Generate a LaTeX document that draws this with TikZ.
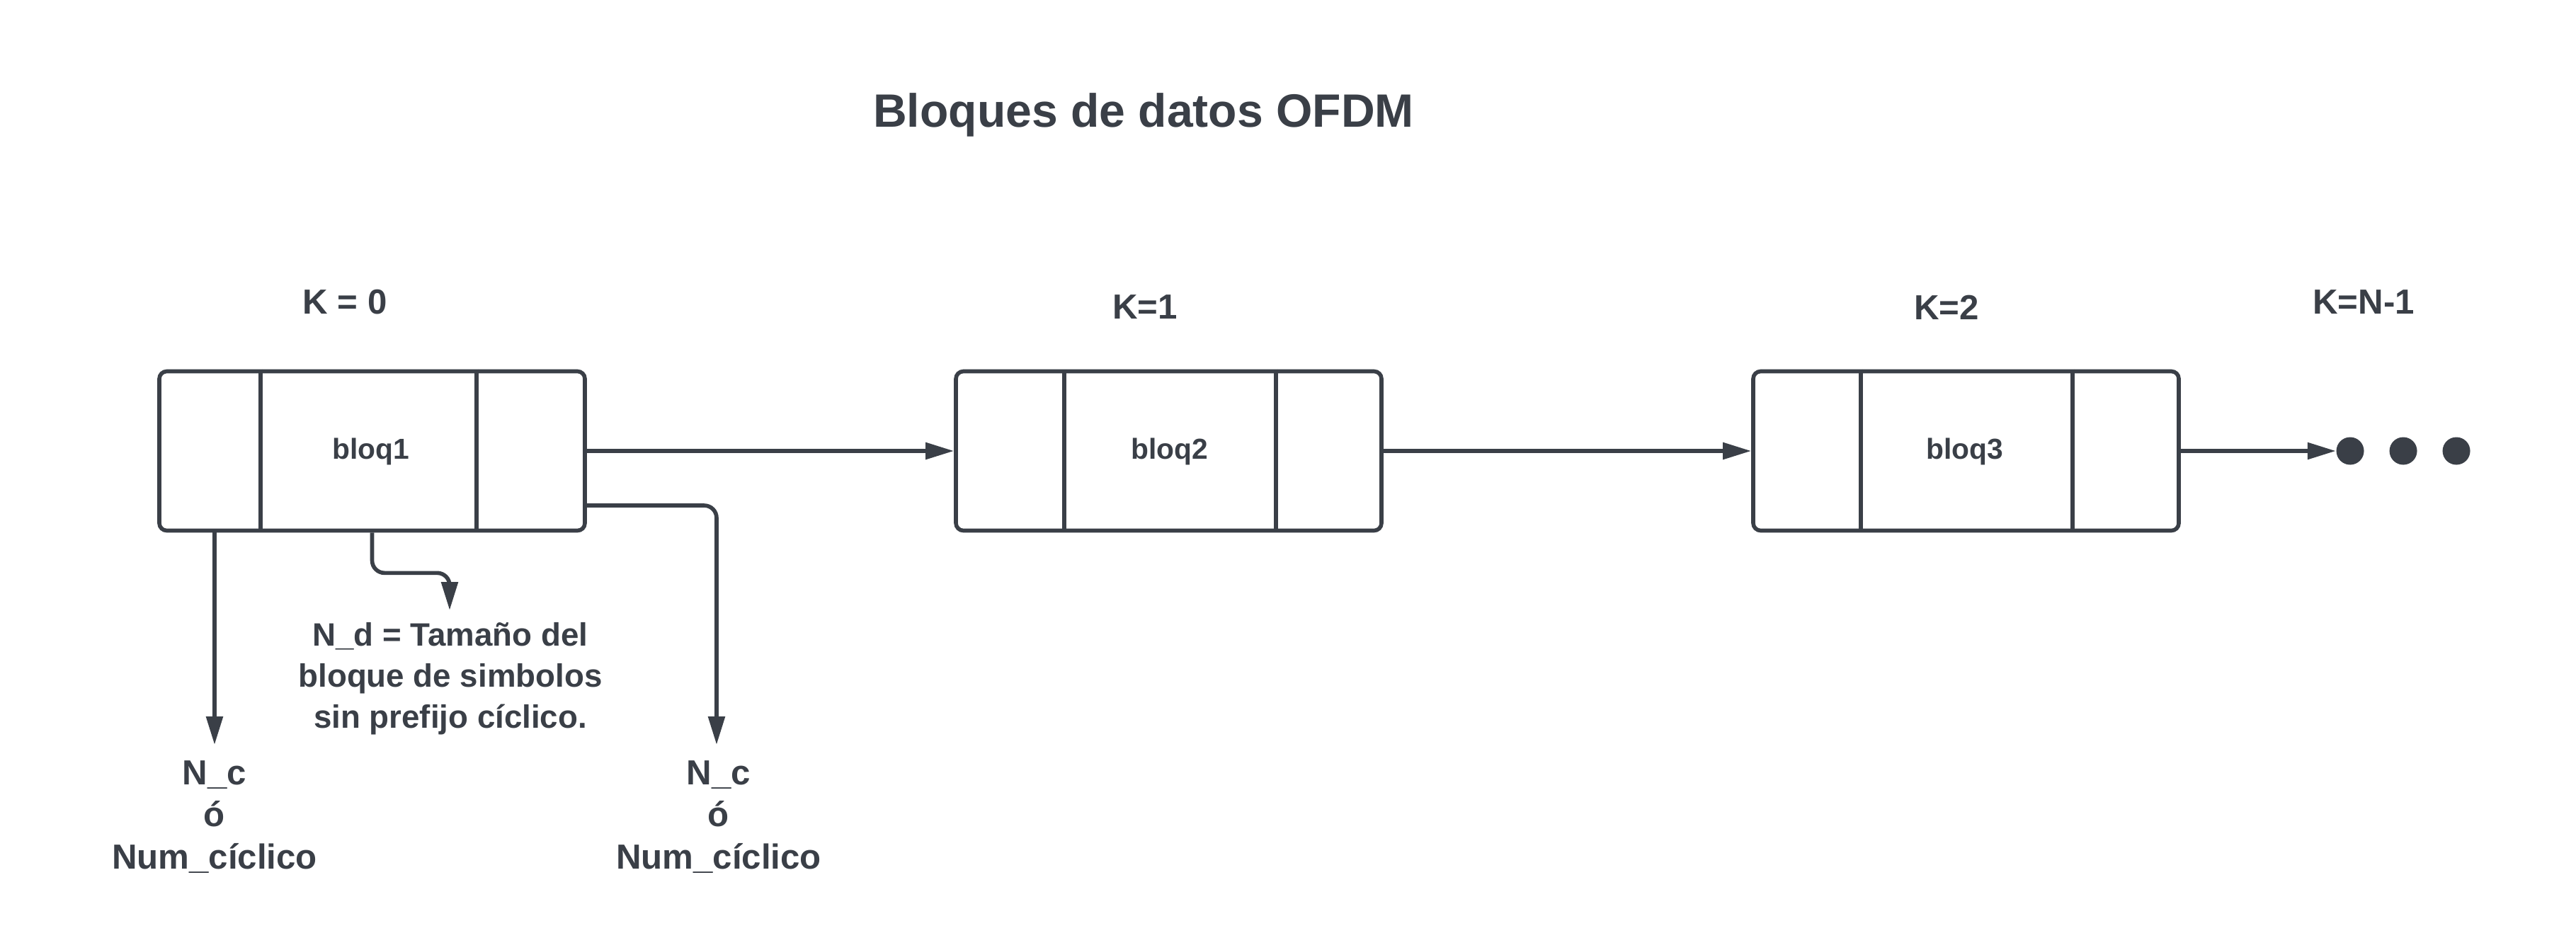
\documentclass[tikz,border=0pt]{standalone}
\usepackage{fontspec}
\setmainfont{Liberation Sans}
\usetikzlibrary{arrows.meta}
\definecolor{ink}{HTML}{3A3F47}

\begin{document}
\begin{tikzpicture}[
    bloque/.style={draw=ink,line width=1.6pt,rounded corners=3pt,minimum width=6.01cm,minimum height=2.25cm,inner sep=0pt},
    conn/.style={draw=ink,line width=1.6pt,rounded corners=5pt,-{Triangle[length=4mm,width=2.3mm]}},
    divisor/.style={draw=ink,line width=1.6pt},
    punto/.style={circle,fill=ink,minimum size=3.9mm,inner sep=0pt},
    etiq/.style={text=ink,font=\bfseries\fontsize{14}{17}\selectfont,align=center},
    nota/.style={text=ink,font=\bfseries\fontsize{13}{16.5}\selectfont,align=center},
    nombre/.style={text=ink,font=\bfseries\fontsize{11.6}{14}\selectfont}]
    \useasboundingbox (0,0) rectangle (36.38,-13.24);
    \node[text=ink,font=\bfseries\fontsize{18.8}{22}\selectfont] (titulo) at (16.15,-1.62) {Bloques de datos OFDM};
    % etiquetas K
    \node[etiq] (k0) at (4.87,-4.27) {K = 0};
    \node[etiq] (k1) at (16.17,-4.34) {K=1};
    \node[etiq] (k2) at (27.49,-4.34) {K=2};
    \node[etiq] (kn) at (33.38,-4.27) {K=N-1};
    % bloques
    \node[bloque] (b1) at (5.255,-6.37) {};
    \node[bloque] (b2) at (16.505,-6.37) {};
    \node[bloque] (b3) at (27.765,-6.37) {};
    \foreach \b/\da/\db in {b1/1.46/4.51,b2/1.56/4.55,b3/1.55/4.54}{
      \draw[divisor] ([xshift=\da cm]\b.north west) -- ([xshift=\da cm]\b.south west);
      \draw[divisor] ([xshift=\db cm]\b.north west) -- ([xshift=\db cm]\b.south west);
    }
    \node[nombre] (n1) at (5.24,-6.38) {bloq1};
    \node[nombre] (n2) at (16.52,-6.38) {bloq2};
    \node[nombre] (n3) at (27.75,-6.38) {bloq3};
    % puntos
    \foreach \i/\x in {1/33.19,2/33.94,3/34.69}
      \node[punto] (p\i) at (\x,-6.37) {};
    \draw[conn] (b1.east) -- (b2.west);
    \draw[conn] (b2.east) -- (b3.west);
    \draw[conn] (b3.east) -- (p1.west);
    % textos de abajo
    \node[etiq] (nc1) at (3.03,-11.54) {N\_c\\ó\\Num\_cíclico};
    \node[etiq] (nc2) at (10.15,-11.54) {N\_c\\ó\\Num\_cíclico};
    \node[nota] (nd) at (6.36,-9.59) {N\_d = Tamaño del\\bloque de simbolos\\sin prefijo cíclico.};
    \coordinate (t1) at (3.03,-10.52);
    \coordinate (t2) at (10.12,-10.52);
    \coordinate (t3) at (6.35,-8.62);
    \draw[conn] (b1.south west -| t1) -- (t1);
    \draw[conn] (b1.south) -- ++(0,-0.57) -| (t3);
    \draw[conn] ([yshift=-0.77cm]b1.east) -| (t2);
\end{tikzpicture}
\end{document}
